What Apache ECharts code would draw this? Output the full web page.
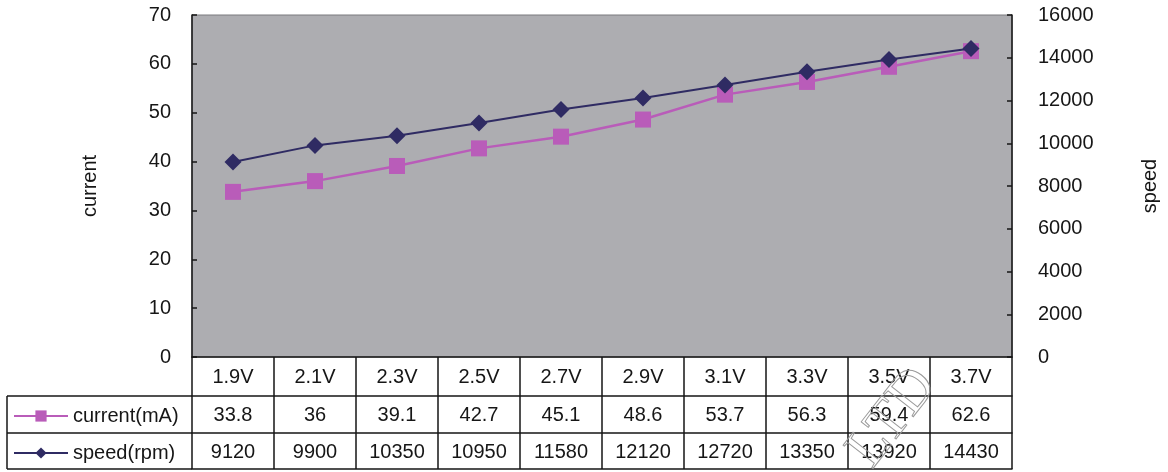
<!DOCTYPE html>
<html>
<head>
<meta charset="utf-8">
<style>html,body{margin:0;padding:0;background:#fff;}#c{width:1168px;height:472px;}</style>
<script src="https://cdn.jsdelivr.net/npm/echarts@6/dist/echarts.min.js"></script>
</head>
<body>
<div id="c"></div>
<script>
var categories = ['1.9V','2.1V','2.3V','2.5V','2.7V','2.9V','3.1V','3.3V','3.5V','3.7V'];
var current = [33.8, 36, 39.1, 42.7, 45.1, 48.6, 53.7, 56.3, 59.4, 62.6];
var speed = [9120, 9900, 10350, 10950, 11580, 12120, 12720, 13350, 13920, 14430];
var leftTicks = {min: 0, max: 70, interval: 10};
var rightTicks = {min: 0, max: 16000, interval: 2000};

var FONT = '"Liberation Sans", Arial, sans-serif';
var FS = 20;
var INK = '#161616';
var chart = echarts.init(document.getElementById('c'));

function tableAxis(offset, tickLen, margin, fmt) {
  return {
    type: 'category', data: categories, position: 'bottom', offset: offset, gridIndex: 0,
    boundaryGap: true,
    axisLine: {show: true, onZero: false, lineStyle: {color: INK, width: 1.5}},
    axisTick: {show: true, interval: 0, length: tickLen, inside: false, lineStyle: {color: INK, width: 1.5}},
    axisLabel: {show: true, interval: 0, margin: margin, fontSize: FS, color: INK, fontFamily: FONT, formatter: fmt},
    splitLine: {show: false}
  };
}

chart.setOption({
  animation: false,
  backgroundColor: '#ffffff',
  grid: {left: 192, right: 154, top: 15, bottom: 115, show: true, backgroundColor: '#adadb1', borderColor: '#7a7a7e', borderWidth: 1},
  legend: {
    orient: 'vertical', left: 13, top: 406, itemWidth: 54, itemHeight: 14, itemGap: 17, padding: [0, 0, 0, 0],
    textStyle: {fontSize: FS, color: INK, fontFamily: FONT, padding: [0, 0, 0, 0]},
    data: ['current(mA)', 'speed(rpm)']
  },
  xAxis: [
    tableAxis(0, 39, 10, function (v) { return v; }),
    tableAxis(39, 37, 9, function (v, i) { return String(current[i]); }),
    tableAxis(76, 36, 9, function (v, i) { return String(speed[i]); }),
    {type: 'category', data: categories, position: 'bottom', offset: 112, axisLine: {show: true, onZero: false, lineStyle: {color: INK, width: 1.5}}, axisTick: {show: false}, axisLabel: {show: false}}
  ],
  yAxis: [
    {
      type: 'value', position: 'left', min: leftTicks.min, max: leftTicks.max, interval: leftTicks.interval,
      name: 'current', nameLocation: 'middle', nameRotate: 90, nameGap: 92,
      nameTextStyle: {fontSize: FS, color: INK, fontFamily: FONT},
      axisLine: {show: true, lineStyle: {color: INK, width: 1.5}},
      axisTick: {show: true, inside: true, length: 5, lineStyle: {color: INK, width: 1.5}},
      axisLabel: {fontSize: FS, color: INK, fontFamily: FONT, margin: 21},
      splitLine: {show: false}
    },
    {
      type: 'value', position: 'right', min: rightTicks.min, max: rightTicks.max, interval: rightTicks.interval,
      name: 'speed', nameLocation: 'middle', nameRotate: 90, nameGap: 128,
      nameTextStyle: {fontSize: FS, color: INK, fontFamily: FONT},
      axisLine: {show: true, lineStyle: {color: INK, width: 1.5}},
      axisTick: {show: true, inside: true, length: 5, lineStyle: {color: INK, width: 1.5}},
      axisLabel: {fontSize: FS, color: INK, fontFamily: FONT, margin: 26, formatter: function (v) { return String(v); }},
      splitLine: {show: false}
    }
  ],
  graphic: [
    {type: 'line', shape: {x1: 7, y1: 396, x2: 192, y2: 396}, style: {stroke: INK, lineWidth: 1.5}, z: 100},
    {type: 'line', shape: {x1: 7, y1: 433, x2: 192, y2: 433}, style: {stroke: INK, lineWidth: 1.5}, z: 100},
    {type: 'line', shape: {x1: 7, y1: 469, x2: 192, y2: 469}, style: {stroke: INK, lineWidth: 1.5}, z: 100},
    {type: 'line', shape: {x1: 7, y1: 396, x2: 7, y2: 469}, style: {stroke: INK, lineWidth: 1.5}, z: 100},
    {type: 'text', x: 893, y: 418, rotation: 52 * Math.PI / 180, originX: 0, originY: 0,
     style: {text: 'LTD', font: '58px "Liberation Serif", serif', fill: 'rgba(255,255,255,0)', stroke: '#9a9a9a', lineWidth: 1, align: 'center', verticalAlign: 'middle'}, z: 120}
  ],
  series: [
    {
      name: 'current(mA)', type: 'line', xAxisIndex: 0, yAxisIndex: 0, data: current,
      symbol: 'rect', symbolSize: 16,
      lineStyle: {color: '#b95cb9', width: 2.5},
      itemStyle: {color: '#b95cb9'}, z: 3
    },
    {
      name: 'speed(rpm)', type: 'line', xAxisIndex: 0, yAxisIndex: 1, data: speed,
      symbol: 'diamond', symbolSize: 17,
      lineStyle: {color: '#2f2b63', width: 2},
      itemStyle: {color: '#2f2b63'}, z: 4
    }
  ]
});
</script>
</body>
</html>
